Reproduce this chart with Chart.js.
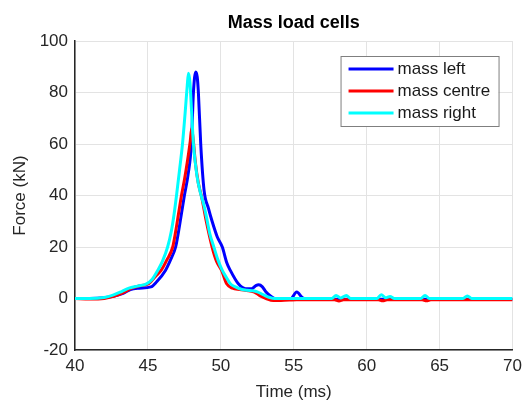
<!DOCTYPE html>
<html>
<head>
<meta charset="utf-8">
<script src="https://cdn.jsdelivr.net/npm/chart.js@4"></script>
<style>
  html, body { margin: 0; padding: 0; background: #fff; }
  #wrap { width: 528px; height: 403px; }
</style>
</head>
<body>
<div id="wrap"><canvas id="chart" width="528" height="403"></canvas></div>
<script>
// ---- data (time in ms, force in kN) ----
const leftTime = [40, 41, 42, 42.7, 43.3, 43.8, 44.4, 45.2, 45.6, 46.2, 46.55, 46.9, 47.1, 47.3, 47.5, 47.75, 47.98, 48.12, 48.28, 48.38, 48.46, 48.62, 48.85, 49.15, 49.4, 49.75, 50.1, 50.4, 50.65, 51.2, 51.7, 52.1, 52.4, 52.6, 52.85, 53.1, 53.4, 53.7, 54.8, 55.2, 55.6, 56, 70];
const leftForce = [0, 0, 0.3, 1, 2, 3.5, 4, 4.5, 6.5, 10.9, 15, 20, 26, 33, 40, 48, 60, 80, 88, 86, 80, 60, 42, 35, 30, 24, 20, 14, 10.9, 5.7, 3.8, 3.8, 5, 5.3, 4.5, 2.5, 1, 0, 0, 2.5, 0.3, -0.3, -0.3];

const centreTime = [40, 41, 42, 42.6, 43.2, 43.9, 44.5, 45.05, 45.5, 45.9, 46.3, 46.7, 46.9, 47.1, 47.3, 47.5, 47.7, 47.9, 48.0, 48.1, 48.25, 48.45, 48.7, 49.0, 49.4, 49.7, 50.05, 50.4, 50.8, 51.3, 51.9, 52.3, 52.7, 53.1, 53.6, 54.7, 55.2, 57.8, 58.1, 58.4, 60.8, 61.1, 61.4, 63.8, 64.1, 64.4, 70];
const centreForce = [0, -0.2, 0, 0.8, 2, 4, 5, 5.7, 8.5, 10.9, 15, 20, 26, 33, 40, 46, 53, 61, 66, 62, 53, 45, 39, 30, 20, 14.5, 10.9, 5.7, 4, 3.5, 3, 2.5, 1, 0, -0.8, -0.6, -0.5, -0.5, -1, -0.5, -0.5, -0.9, -0.5, -0.5, -0.9, -0.5, -0.5];

const rightTime = [40, 41, 42, 42.6, 43.2, 43.7, 44.3, 44.9, 45.3, 45.67, 46.0, 46.35, 46.6, 46.8, 46.96, 47.17, 47.37, 47.55, 47.7, 47.78, 47.88, 48.0, 48.12, 48.35, 48.6, 48.8, 49.0, 49.25, 49.52, 49.8, 50.1, 50.4, 50.65, 51.0, 51.4, 51.8, 52.2, 52.5, 52.9, 53.3, 53.7, 57.6, 57.9, 58.2, 58.6, 58.9, 60.7, 61.0, 61.3, 61.6, 61.9, 63.7, 64.0, 64.3, 66.6, 66.9, 67.2, 70];
const rightForce = [0, 0, 0.4, 1.3, 2.7, 4, 4.8, 5.7, 7.5, 10.9, 14.5, 20, 26, 33, 40, 50, 60, 72, 83, 87.5, 84, 72, 60, 48, 41, 37, 32, 25, 20, 15, 10.9, 8, 5.7, 4.5, 3.6, 3.2, 3, 2.6, 1.5, 0.5, 0, 0, 1.2, 0.2, 1.2, 0, 0, 1.5, 0.3, 0.8, 0, 0, 1.2, 0, 0, 1, 0, 0];

const seriesNames = ["mass left", "mass centre", "mass right"];
const seriesColors = ["#0000ff", "#ff0000", "#00ffff"];
const xTicks = [40, 45, 50, 55, 60, 65, 70];
const yTicks = [-20, 0, 20, 40, 60, 80, 100];

const FONT = "'Liberation Sans', Arial, Helvetica, sans-serif";

function toPoints(ts, vs) {
  return ts.map((t, i) => ({ x: t, y: vs[i] }));
}

// legend box drawn inside the plot, like the original
const insideLegend = {
  id: "insideLegend",
  afterDraw(chart) {
    const ctx = chart.ctx;
    const area = chart.chartArea;
    const w = 158, h = 70;
    const x0 = area.right - 14 - w;
    const y0 = area.top + 15;
    ctx.save();
    ctx.fillStyle = "#ffffff";
    ctx.fillRect(x0, y0, w, h);
    ctx.strokeStyle = "#7f7f7f";
    ctx.lineWidth = 1;
    ctx.strokeRect(x0 + 0.5, y0 + 0.5, w, h);
    ctx.font = "17px " + FONT;
    ctx.textBaseline = "middle";
    chart.data.datasets.forEach((ds, i) => {
      const cy = y0 + 13 + i * 22;
      ctx.strokeStyle = ds.borderColor;
      ctx.lineWidth = 3;
      ctx.beginPath();
      ctx.moveTo(x0 + 8, cy);
      ctx.lineTo(x0 + 53, cy);
      ctx.stroke();
      ctx.fillStyle = "#1a1a1a";
      ctx.fillText(ds.label, x0 + 57, cy);
    });
    ctx.restore();
  }
};

new Chart(document.getElementById("chart"), {
  type: "line",
  data: {
    datasets: [
      { label: seriesNames[0], data: toPoints(leftTime, leftForce), borderColor: seriesColors[0], order: 3 },
      { label: seriesNames[1], data: toPoints(centreTime, centreForce), borderColor: seriesColors[1], order: 2 },
      { label: seriesNames[2], data: toPoints(rightTime, rightForce), borderColor: seriesColors[2], order: 1 }
    ]
  },
  options: {
    responsive: false,
    animation: false,
    layout: { padding: { right: 12, left: 0, top: 0, bottom: 0 } },
    elements: {
      line: { borderWidth: 3, cubicInterpolationMode: "monotone" },
      point: { radius: 0 }
    },
    plugins: {
      legend: { display: false },
      tooltip: { enabled: false },
      title: {
        display: true,
        text: "Mass load cells",
        fullSize: false,
        color: "#000",
        font: { family: FONT, size: 18, weight: "bold" },
        padding: { top: 12, bottom: 7.4 }
      }
    },
    scales: {
      x: {
        type: "linear",
        min: 40,
        max: 70,
        afterFit: (axis) => { axis.height = 53; },
        afterBuildTicks: (axis) => { axis.ticks = xTicks.map(v => ({ value: v })); },
        ticks: { color: "#262626", font: { family: FONT, size: 17 }, padding: 6 },
        grid: { color: "#e3e3e3", drawTicks: false },
        border: { color: "#262626", width: 1.5 },
        title: {
          display: true,
          text: "Time (ms)",
          color: "#262626",
          font: { family: FONT, size: 17 },
          padding: { top: 0, bottom: 0 }
        }
      },
      y: {
        min: -20,
        max: 100,
        afterFit: (axis) => { axis.width = 75; },
        afterBuildTicks: (axis) => { axis.ticks = yTicks.map(v => ({ value: v })); },
        ticks: { color: "#262626", font: { family: FONT, size: 17 }, padding: 7 },
        grid: { color: "#e3e3e3", drawTicks: false },
        border: { color: "#262626", width: 1.5 },
        title: {
          display: true,
          text: "Force (kN)",
          color: "#262626",
          font: { family: FONT, size: 17 },
          padding: { top: 10, bottom: 0 }
        }
      }
    }
  },
  plugins: [insideLegend]
});
</script>
</body>
</html>
